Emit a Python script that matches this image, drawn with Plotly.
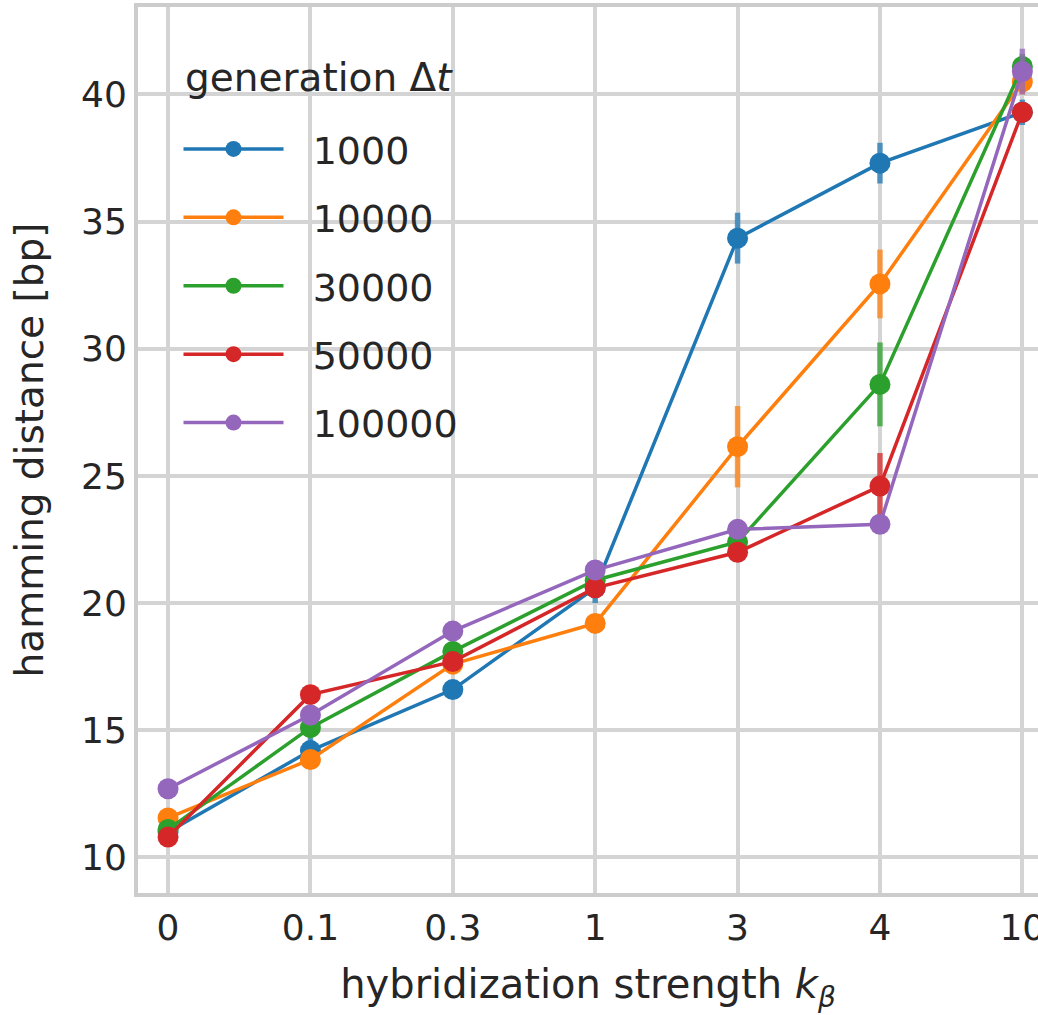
import plotly.graph_objects as go

categories = ["0", "0.1", "0.3", "1", "3", "4", "10"]
series_names = ["1000", "10000", "30000", "50000", "100000"]
colors = ["#1f77b4", "#ff7f0e", "#2ca02c", "#d62728", "#9467bd"]
err_colors = ["rgba(31,119,180,0.75)", "rgba(255,127,14,0.75)", "rgba(44,160,44,0.75)",
              "rgba(214,39,40,0.75)", "rgba(148,103,189,0.75)"]

vals_1000 = [11.0, 14.2, 16.6, 20.6, 34.35, 37.3, 39.3]
err_1000 = [0.3, 0.5, 0.3, 0.6, 1.0, 0.8, 0.5]
vals_10000 = [11.55, 13.85, 17.6, 19.2, 26.15, 32.55, 40.5]
err_10000 = [0.3, 0.3, 0.3, 0.3, 1.6, 1.35, 0.5]
vals_30000 = [11.1, 15.1, 18.1, 20.9, 22.4, 28.6, 41.1]
err_30000 = [0.3, 0.4, 0.4, 0.3, 0.3, 1.65, 0.5]
vals_50000 = [10.8, 16.4, 17.7, 20.6, 22.0, 24.6, 39.3]
err_50000 = [0.3, 0.3, 0.3, 0.3, 0.3, 1.3, 0.4]
vals_100000 = [12.7, 15.6, 18.9, 21.3, 22.9, 23.1, 40.9]
err_100000 = [0.2, 0.3, 0.3, 0.3, 0.35, 0.2, 0.9]

all_vals = [vals_1000, vals_10000, vals_30000, vals_50000, vals_100000]
all_errs = [err_1000, err_10000, err_30000, err_50000, err_100000]

FONT = "DejaVu Sans"
TXT = "#262626"
PAD = "\u00a0\u00a0"

fig = go.Figure()
for name, v, e, c, ec in zip(series_names, all_vals, all_errs, colors, err_colors):
    fig.add_trace(go.Scatter(
        x=categories, y=v, name=PAD + name, mode="lines+markers",
        legendgroup=name,
        line=dict(color=c, width=3.5),
        marker=dict(color=c, size=21),
        error_y=dict(type="data", array=e, visible=True, color=ec, thickness=5.5, width=0),
    ))

fig.add_annotation(
    text="generation Δ<i>t</i>", xref="paper", yref="paper",
    x=0.05, y=0.92, xanchor="left", yanchor="middle", showarrow=False,
    font=dict(size=39, family=FONT, color=TXT),
)

fig.update_layout(
    width=1038, height=1015,
    margin=dict(l=138, r=0, t=7, b=122),
    paper_bgcolor="white", plot_bgcolor="white",
    font=dict(family=FONT, color=TXT, size=36),
    showlegend=True,
    legend=dict(
        x=0.045, y=0.875, xanchor="left", yanchor="top",
        bgcolor="rgba(0,0,0,0)",
        font=dict(size=38, family=FONT, color=TXT),
        tracegroupgap=16,
        itemwidth=100,
    ),
    xaxis=dict(
        type="category", range=[-0.211, 6.11], automargin=False,
        showgrid=True, gridcolor="#d4d4d4", gridwidth=3.5,
        showline=True, linecolor="#cccccc", linewidth=4, mirror=True,
        ticks="", tickfont=dict(size=36, family=FONT, color=TXT),
        title=dict(text="hybridization strength <i>k</i><sub><i>β</i></sub>",
                   font=dict(size=40, family=FONT, color=TXT), standoff=24),
        zeroline=False,
    ),
    yaxis=dict(
        range=[8.6, 43.44], automargin=False,
        tickvals=[10, 15, 20, 25, 30, 35, 40],
        showgrid=True, gridcolor="#d4d4d4", gridwidth=3.5,
        showline=True, linecolor="#cccccc", linewidth=4,
        ticks="", tickfont=dict(size=36, family=FONT, color=TXT),
        title=dict(text="hamming distance [bp]", font=dict(size=39, family=FONT, color=TXT), standoff=26),
        zeroline=False,
    ),
)

fig.write_html("out.html")
